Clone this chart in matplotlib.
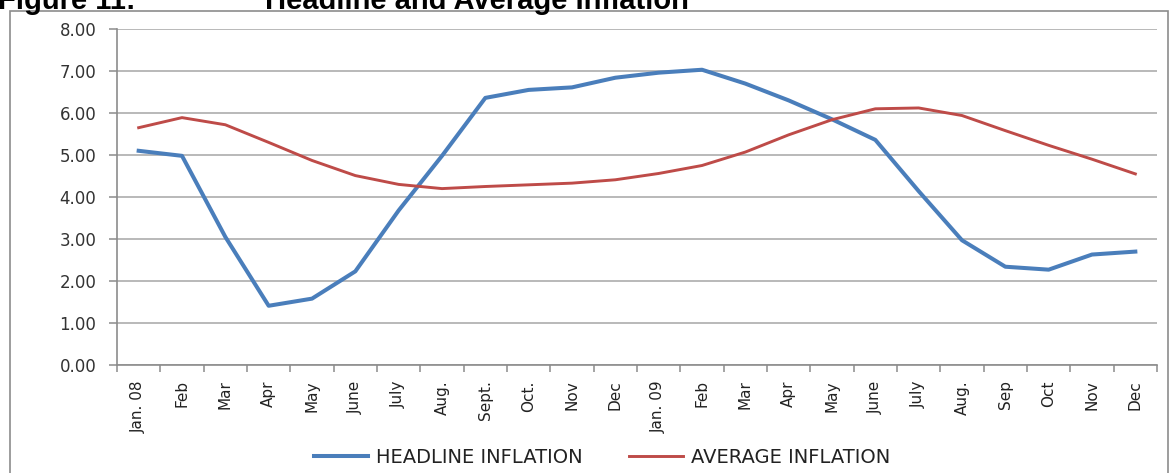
import matplotlib
matplotlib.use("Agg")
import matplotlib.pyplot as plt
from matplotlib.patches import Rectangle
from matplotlib.ticker import FixedLocator, NullFormatter

months = ["Jan. 08", "Feb", "Mar", "Apr", "May", "June", "July", "Aug.", "Sept.", "Oct.",
          "Nov", "Dec", "Jan. 09", "Feb", "Mar", "Apr", "May", "June", "July", "Aug.",
          "Sep", "Oct", "Nov", "Dec"]
headline = [5.10, 4.98, 3.05, 1.41, 1.58, 2.23, 3.68, 4.98, 6.36, 6.55, 6.61, 6.84,
            6.96, 7.03, 6.70, 6.30, 5.85, 5.36, 4.14, 2.97, 2.34, 2.27, 2.63, 2.70]
average = [5.65, 5.89, 5.72, 5.30, 4.87, 4.51, 4.30, 4.20, 4.25, 4.29, 4.33, 4.41,
           4.56, 4.75, 5.07, 5.48, 5.84, 6.10, 6.12, 5.94, 5.58, 5.23, 4.90, 4.55]
yticks = [0, 1, 2, 3, 4, 5, 6, 7, 8]
series_names = ["HEADLINE INFLATION", "AVERAGE INFLATION"]

W, H = 1173, 473
fig = plt.figure(figsize=(W / 100, H / 100), dpi=100)
fig.patch.set_facecolor("white")

# outer frame
fig.patches.append(Rectangle((10 / W, -0.1), (1168 - 10) / W, 1 - 11 / H + 0.1,
                             transform=fig.transFigure, fill=False,
                             edgecolor="#8c8c8c", linewidth=1.2))

# title (partly cut off at the top edge, as in the reference)
fig.text(-2 / W, 1 - 9 / H, "Figure 11:", fontsize=21, fontweight="bold",
         family="Liberation Sans", va="baseline", ha="left")
fig.text(265 / W, 1 - 9 / H, "Headline and Average Inflation", fontsize=21,
         fontweight="bold", family="Liberation Sans", va="baseline", ha="left")

ax = fig.add_axes([117 / W, 1 - 365 / H, (1157 - 117) / W, (365 - 29) / H])
x = list(range(len(months)))
blue = "#4A7EBB"
red = "#BE4B48"
l1, = ax.plot(x, headline, color=blue, linewidth=2.9, solid_joinstyle="round")
l2, = ax.plot(x, average, color=red, linewidth=2.1, solid_joinstyle="round")

ax.set_xlim(-0.5, len(months) - 0.5)
ax.set_ylim(0, 8)
ax.set_yticks(yticks)
ax.set_yticklabels([f"{v:.2f}" for v in yticks], family="DejaVu Sans", fontsize=12)
ax.yaxis.grid(True, color="#a6a6a6", linewidth=1.1)
ax.set_axisbelow(True)

ax.set_xticks(x)
ax.set_xticklabels(months, rotation=90, family=["Liberation Sans Narrow", "DejaVu Sans"],
                   fontsize=11)
ax.tick_params(axis="x", which="major", length=0, pad=11, labelcolor="#222222")
ax.xaxis.set_minor_locator(FixedLocator([i - 0.5 for i in range(len(months) + 1)]))
ax.xaxis.set_minor_formatter(NullFormatter())
ax.tick_params(axis="x", which="minor", length=5, color="#8c8c8c", width=1.1)
ax.tick_params(axis="y", length=6, color="#8c8c8c", width=1.1, pad=9,
               labelcolor="#333333")

for s in ["top", "right"]:
    ax.spines[s].set_visible(False)
for s in ["left", "bottom"]:
    ax.spines[s].set_color("#8c8c8c")
    ax.spines[s].set_linewidth(1.2)

fig.legend([l1, l2], series_names, loc="center", bbox_to_anchor=(602 / W, 1 - 457 / H),
           ncol=2, frameon=False, handlelength=2.8, columnspacing=2.4, handletextpad=0.4,
           prop={"family": "DejaVu Sans", "size": 14}, labelcolor="#222222")

fig.savefig("out.png", dpi=100)
